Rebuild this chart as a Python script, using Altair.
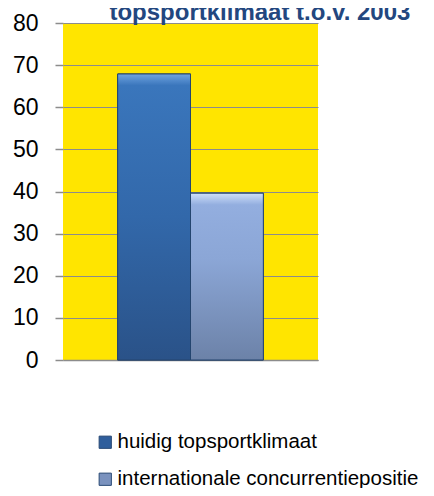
import altair as alt
import pandas as pd

series = ["huidig topsportklimaat", "internationale concurrentiepositie"]
values = [67.9, 39.6]
solid_colors = ["#2F5E9C", "#7A92BE"]
y_ticks = [0, 10, 20, 30, 40, 50, 60, 70, 80]
title_text = "topsportklimaat t.o.v. 2003"

df = pd.DataFrame({"series": series, "value": values})

grad1 = alt.Gradient(
    gradient="linear", x1=0, y1=0, x2=0, y2=1,
    stops=[alt.GradientStop(color="#6FA3E0", offset=0),
           alt.GradientStop(color="#3A76BC", offset=0.04),
           alt.GradientStop(color="#3268AA", offset=0.5),
           alt.GradientStop(color="#2A5288", offset=1)])
grad2 = alt.Gradient(
    gradient="linear", x1=0, y1=0, x2=0, y2=1,
    stops=[alt.GradientStop(color="#CFE0FA", offset=0),
           alt.GradientStop(color="#93AEDF", offset=0.07),
           alt.GradientStop(color="#8BA6D6", offset=0.4),
           alt.GradientStop(color="#6C82A8", offset=1)])

x_enc = alt.X("series:N", sort=series,
              scale=alt.Scale(paddingInner=0, paddingOuter=0.75),
              axis=alt.Axis(labels=False, ticks=False, title=None,
                            domainColor="#8C8C8C", domainWidth=1.5, grid=False))
y_enc = alt.Y("value:Q",
              scale=alt.Scale(domain=[0, 80], nice=False),
              axis=alt.Axis(values=y_ticks, title=None, grid=True,
                            gridColor="#8C8C8C", gridWidth=1.2,
                            tickColor="#8C8C8C", tickSize=8, tickWidth=1.5,
                            domain=False, labelFontSize=23,
                            labelFont="Liberation Sans", labelColor="#000000",
                            labelPadding=17))

base = alt.Chart(df).mark_bar(stroke="#1E3A60", strokeWidth=1).encode(
    x=x_enc,
    y=y_enc,
    color=alt.Color("series:N", sort=series,
                    scale=alt.Scale(domain=series, range=solid_colors),
                    legend=alt.Legend(orient="none", legendX=32, legendY=409,
                                      direction="vertical", title=None,
                                      symbolType="square", symbolSize=150,
                                      symbolStrokeColor="#2A4A75",
                                      symbolStrokeWidth=1,
                                      labelFontSize=20.5,
                                      labelFont="Liberation Sans",
                                      labelColor="#000000", labelOffset=2,
                                      rowPadding=16, labelLimit=400)),
)

overlay = alt.Chart(df).mark_bar(stroke="#24456F", strokeWidth=1).encode(
    x=alt.X("series:N", sort=series),
    y=alt.Y("value:Q"),
    color=alt.condition(alt.datum.series == series[0],
                        alt.value(grad1), alt.value(grad2)),
)

chart = alt.layer(base, overlay).properties(
    width=255,
    height=337,
    autosize=alt.AutoSizeParams(type="none"),
    padding={"left": 55, "top": 15, "right": 108, "bottom": 128},
    title=alt.TitleParams(title_text, anchor="start", dx=97, offset=-13,
                          fontSize=24, font="Liberation Sans",
                          fontWeight="bold", color="#23477F"),
).configure_view(fill="#FFE500", stroke=None)

chart.save("out.html", embed_options={"renderer": "svg", "actions": False})
